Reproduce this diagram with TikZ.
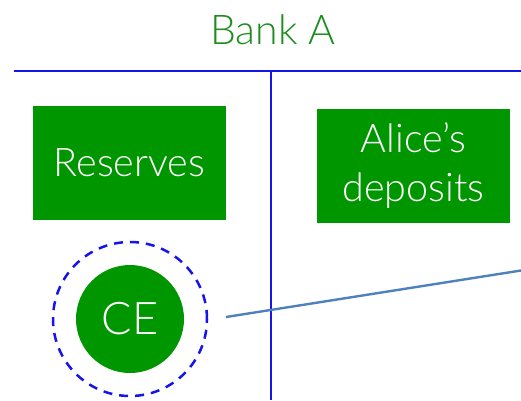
\documentclass[tikz,border=0pt]{standalone}
\usepackage{fontspec}
\setmainfont{Lato}[UprightFont={* Light}]
\definecolor{boxgreen}{RGB}{0,150,0}
\definecolor{titlegreen}{RGB}{30,140,30}
\definecolor{ruleblue}{RGB}{20,20,235}
\definecolor{linkblue}{RGB}{79,129,189}
\begin{document}
\begin{tikzpicture}[x=1pt,y=-1pt,
  greenbox/.style={fill=boxgreen,text=white,minimum width=193pt,minimum height=114pt,inner sep=0pt,align=center,font=\fontsize{39.5}{49}\selectfont},
  greencircle/.style={circle,fill=boxgreen,text=white,minimum size=108pt,inner sep=0pt,font=\fontsize{45}{50}\selectfont},
  dashring/.style={circle,draw=ruleblue,line width=2.5pt,dash pattern=on 9pt off 7pt,minimum size=154pt,inner sep=0pt},
  rule/.style={draw=ruleblue,line width=2pt},
  link/.style={draw=linkblue,line width=2.4pt}]
\useasboundingbox (0,0) rectangle (521,400);
\node[text=titlegreen,font=\fontsize{41}{48}\selectfont] (title) at (273,30) {Bank A};
\coordinate (hl) at (14,71);
\coordinate (hr) at (521,71);
\coordinate (vt) at (271,71);
\coordinate (vb) at (271,400);
\draw[rule] (hl) -- (hr);
\draw[rule] (vt) -- (vb);
\node[greenbox] (reserves) at (129.5,163) {Reserves};
\node[greenbox] (alice) at (413.5,165.5) {Alice’s\\deposits};
\node[dashring] (ring) at (130,319) {};
\node[greencircle] (ce) at (130,319) {CE};
\coordinate (linkstart) at (226,317);
\coordinate (linkend) at (521,270.5);
\draw[link] (linkstart) -- (linkend);
\end{tikzpicture}
\end{document}
